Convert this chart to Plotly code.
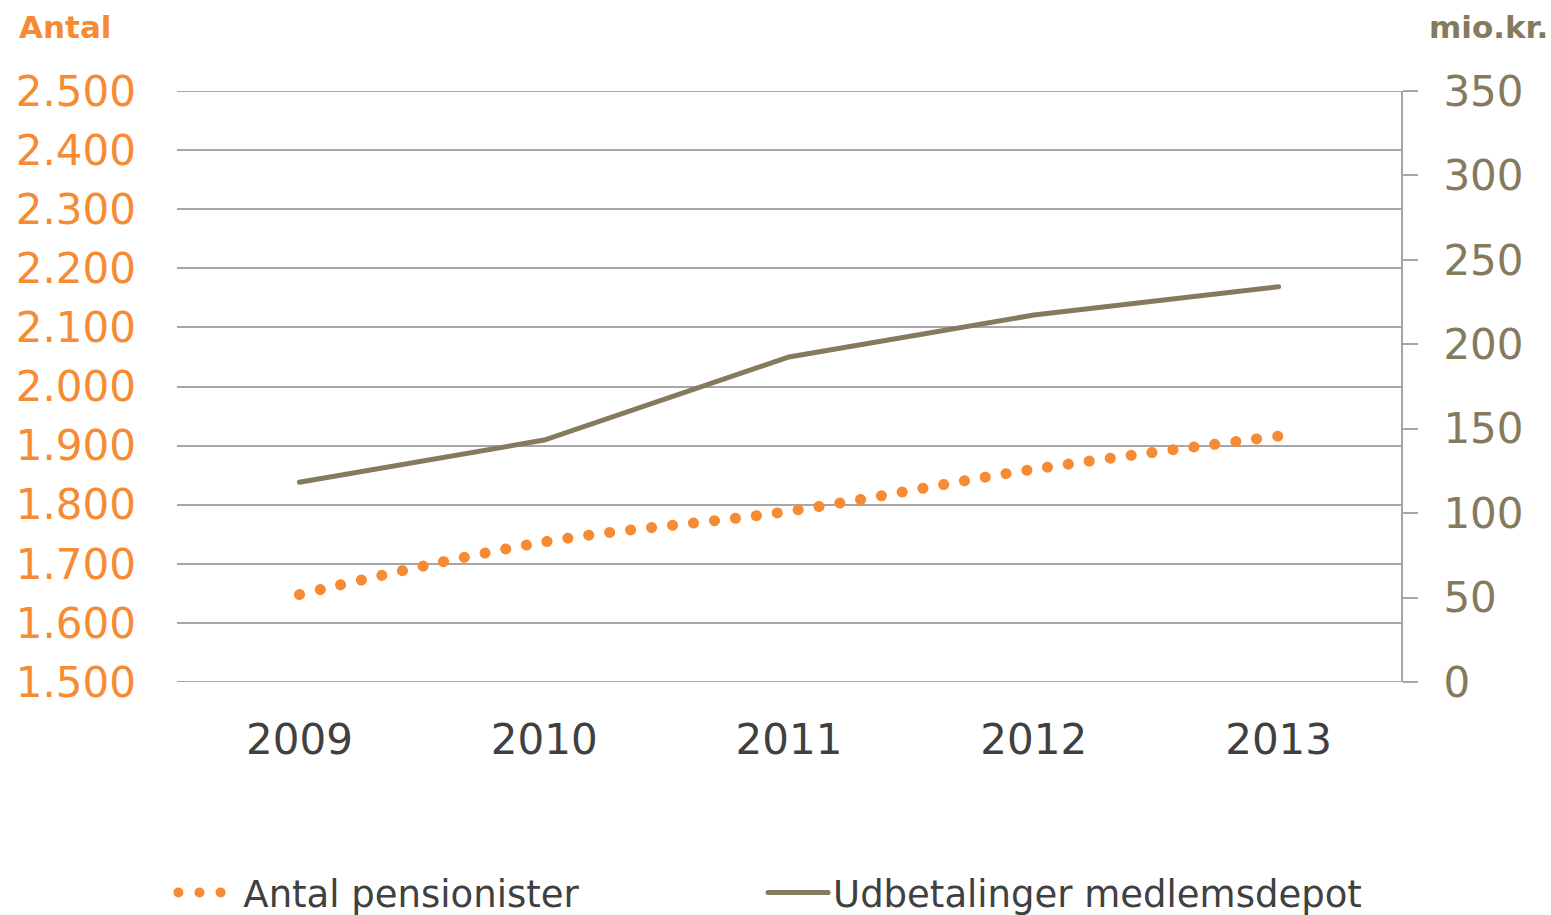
import plotly.graph_objects as go

years = ["2009", "2010", "2011", "2012", "2013"]
antal_pensionister = [1648, 1737, 1789, 1860, 1916]
udbetalinger = [118.3, 143.3, 192.5, 217.3, 234.1]

left_ticks = [1500, 1600, 1700, 1800, 1900, 2000, 2100, 2200, 2300, 2400, 2500]
right_ticks = [0, 50, 100, 150, 200, 250, 300, 350]

ORANGE = "#F68B33"
BROWN = "#857A5E"
DARK = "#404040"
GRID = "#A6A6A6"
FONT = "DejaVu Sans, Verdana, sans-serif"

fig = go.Figure()
fig.add_trace(go.Scatter(
    x=years, y=antal_pensionister, name="Antal pensionister", mode="lines",
    line=dict(color=ORANGE, width=11, dash="0.1px,21px", shape="spline", smoothing=1.0),
    yaxis="y", legend="legend",
))
fig.add_trace(go.Scatter(
    x=years, y=udbetalinger, name="Udbetalinger medlemsdepot", mode="lines",
    line=dict(color=BROWN, width=5),
    yaxis="y2", legend="legend2",
))

# gridlines at the range ends (plotly clips grid lines at the plot edges)
edge_lines = [
    dict(type="line", xref="paper", yref="y", x0=0, x1=1, y0=v, y1=v,
         line=dict(color=GRID, width=2), layer="below")
    for v in (left_ticks[0], left_ticks[-1])
]

legend_common = dict(orientation="h", y=-0.357, yanchor="middle", xanchor="left",
                     font=dict(size=37, color=DARK, family=FONT),
                     itemwidth=60, bgcolor="rgba(0,0,0,0)")

fig.update_layout(
    width=1551, height=915,
    margin=dict(l=177, r=150, t=91, b=233, autoexpand=False),
    paper_bgcolor="white", plot_bgcolor="white",
    separators=",.",
    font=dict(family=FONT, color=DARK),
    showlegend=True,
    legend=dict(x=-0.003, **legend_common),
    legend2=dict(x=0.4788, **legend_common),
    xaxis=dict(type="category", range=[-0.5, 4.5], showgrid=False, showline=False,
               ticks="", tickfont=dict(size=42, color=DARK), ticklabelstandoff=29),
    yaxis=dict(range=[left_ticks[0], left_ticks[-1]], tickvals=left_ticks, tickformat=",d",
               showgrid=True, gridcolor=GRID, gridwidth=2, zeroline=False, showline=False,
               ticks="", tickfont=dict(size=42, color=ORANGE), ticklabelstandoff=40),
    yaxis2=dict(range=[right_ticks[0], right_ticks[-1]], tickvals=right_ticks,
                overlaying="y", side="right",
                showgrid=False, zeroline=False, showline=True, linecolor=GRID, linewidth=2,
                ticks="outside", ticklen=15, tickwidth=2, tickcolor=GRID,
                tickfont=dict(size=42, color=BROWN), ticklabelstandoff=17),
    shapes=edge_lines,
    annotations=[
        dict(text="<b>Antal</b>", xref="paper", yref="paper", x=-0.131, y=1.108,
             xanchor="left", yanchor="middle", showarrow=False,
             font=dict(size=31, color=ORANGE, family=FONT)),
        dict(text="<b>mio.kr.</b>", xref="paper", yref="paper", x=1.1215, y=1.108,
             xanchor="right", yanchor="middle", showarrow=False,
             font=dict(size=31, color=BROWN, family=FONT)),
    ],
)

post = """
var s=document.createElement('style');
s.innerHTML='.js-line{stroke-linecap:round !important;} body{margin:0 !important;}';
document.head.appendChild(s);
"""
fig.write_html("out.html", post_script=post, config={"displayModeBar": False})
